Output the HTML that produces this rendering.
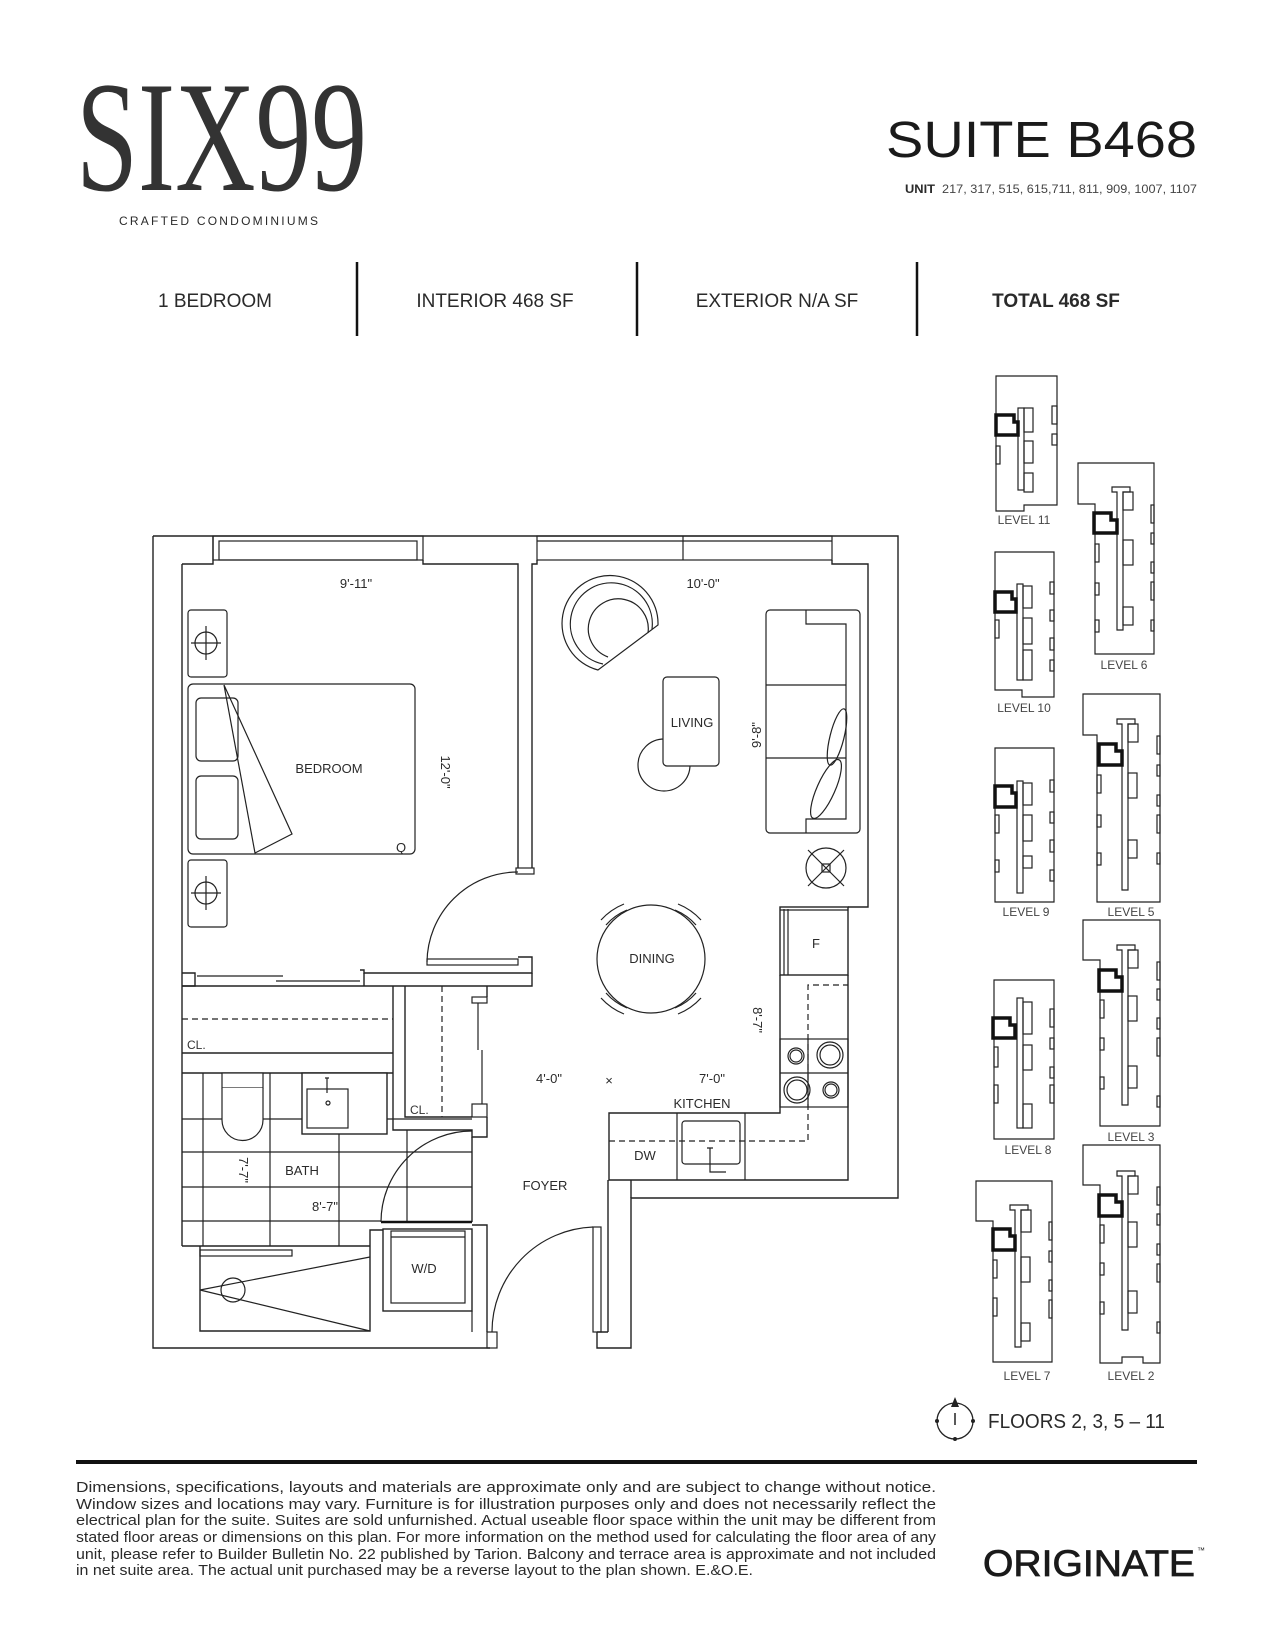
<!DOCTYPE html>
<html><head><meta charset="utf-8"><style>
html,body{margin:0;padding:0;background:#fff;}
svg{display:block;}
text{font-family:"Liberation Sans",sans-serif;fill:#2a2a2a;}
.p{fill:none;stroke:#222;stroke-width:1.4;}
.t{fill:none;stroke:#222;stroke-width:1.2;}
.h{fill:none;stroke:#111;stroke-width:3.5;}
.d{fill:none;stroke:#222;stroke-width:1.2;stroke-dasharray:6 4;}
.lbl{font-size:13px;text-anchor:middle;}
.lv{font-size:12px;text-anchor:middle;fill:#444;}
</style></head><body>
<svg width="1275" height="1650" viewBox="0 0 1275 1650" xmlns="http://www.w3.org/2000/svg">
<!-- Header -->
<text x="76" y="190" font-size="158" textLength="291" lengthAdjust="spacingAndGlyphs" style="font-family:'Liberation Serif',serif;fill:#333">SIX99</text>
<text x="119" y="225" font-size="12" textLength="199" lengthAdjust="spacing">CRAFTED CONDOMINIUMS</text>
<text x="886" y="157" font-size="51" textLength="311" lengthAdjust="spacingAndGlyphs" style="fill:#1a1a1a">SUITE B468</text>
<text x="905" y="193" font-size="12" font-weight="bold" textLength="30" lengthAdjust="spacingAndGlyphs">UNIT</text>
<text x="942" y="193" font-size="12" textLength="255" lengthAdjust="spacingAndGlyphs" style="fill:#444">217, 317, 515, 615,711, 811, 909, 1007, 1107</text>
<line x1="357" y1="262" x2="357" y2="336" stroke="#111" stroke-width="2.5"/>
<line x1="637" y1="262" x2="637" y2="336" stroke="#111" stroke-width="2.5"/>
<line x1="917" y1="262" x2="917" y2="336" stroke="#111" stroke-width="2.5"/>
<text x="215" y="307" font-size="19" text-anchor="middle">1 BEDROOM</text>
<text x="495" y="307" font-size="19" text-anchor="middle">INTERIOR 468 SF</text>
<text x="777" y="307" font-size="19" text-anchor="middle">EXTERIOR N/A SF</text>
<text x="1056" y="307" font-size="19" font-weight="bold" text-anchor="middle">TOTAL 468 SF</text>

<!-- Floor plan -->
<g>
<path class="p" d="M153,536 L898,536 L898,1198 L631,1198 L631,1348 L602,1348"/>
<path class="p" d="M153,536 L153,1348 L490,1348"/>
<path class="p" d="M182,564 L213,564 L213,536"/>
<rect class="t" x="213" y="536" width="210" height="24"/>
<rect class="t" x="219" y="541" width="198" height="19"/>
<path class="p" d="M423,560 L423,564 L518,564 L518,868"/>
<path class="p" d="M532,868 L532,564 L537,564 L537,560"/>
<rect class="t" x="516" y="868" width="18" height="6"/>
<rect class="t" x="537" y="536" width="295" height="24"/>
<line class="t" x1="537" y1="541" x2="832" y2="541"/>
<line class="t" x1="683" y1="536" x2="683" y2="560"/>
<path class="p" d="M832,560 L832,564 L868,564 L868,907 L848,907"/>
<rect class="p" x="780" y="907" width="68" height="68"/>
<line class="t" x1="784" y1="909" x2="784" y2="975"/><line class="t" x1="788" y1="909" x2="788" y2="975"/>
<line class="t" x1="780" y1="910" x2="848" y2="910"/>
<path class="p" d="M780,975 L780,1113 L609,1113 L609,1180 L848,1180 L848,975"/>
<rect class="t" x="780" y="1039" width="68" height="68"/>
<line class="t" x1="808" y1="1039" x2="808" y2="1107"/><line class="t" x1="780" y1="1073" x2="848" y2="1073"/>
<circle class="t" cx="796" cy="1056" r="8"/><circle class="t" cx="796" cy="1056" r="6"/>
<circle class="t" cx="830" cy="1055" r="13"/><circle class="t" cx="830" cy="1055" r="10"/>
<circle class="t" cx="797" cy="1090" r="13"/><circle class="t" cx="797" cy="1090" r="10"/>
<circle class="t" cx="831" cy="1090" r="8"/><circle class="t" cx="831" cy="1090" r="6"/>
<line class="t" x1="677" y1="1113" x2="677" y2="1180"/><line class="t" x1="745" y1="1113" x2="745" y2="1180"/>
<path class="d" d="M609,1141 L808,1141 L808,985 L848,985"/>
<rect class="t" x="682" y="1121" width="58" height="43" rx="3"/>
<path class="t" d="M710,1148 L710,1172 L726,1172 M707,1148 L713,1148"/>
<path class="p" d="M608,1180 L608,1332 M631,1198 L631,1180"/>
<rect class="t" x="593" y="1227" width="8" height="105"/>
<path class="t" d="M593,1227 A105,105 0 0 0 492,1332"/>
<path class="p" d="M597,1332 L608,1332 M597,1332 L597,1348 L602,1348"/>
<rect class="t" x="487" y="1332" width="10" height="16"/>
<rect class="t" x="188" y="610" width="39" height="67" rx="3"/>
<circle class="t" cx="206" cy="643" r="11"/><path class="t" d="M191,643 L221,643 M206,626 L206,660"/>
<rect class="t" x="188" y="860" width="39" height="67" rx="3"/>
<circle class="t" cx="206" cy="893" r="11"/><path class="t" d="M191,893 L221,893 M206,876 L206,910"/>
<rect class="t" x="188" y="684" width="227" height="170" rx="5"/>
<rect class="t" x="196" y="698" width="42" height="63" rx="5"/>
<rect class="t" x="196" y="776" width="42" height="63" rx="5"/>
<path class="t" d="M224,685 L292,834 L255,853 Z"/>
<rect class="t" x="427" y="959" width="91" height="6"/>
<path class="t" d="M427,962 A91,91 0 0 1 518,872"/>
<path class="p" d="M182,564 L182,1246"/>
<path class="p" d="M182,973 L195,973 L195,986 L182,986"/>
<line class="t" x1="197" y1="976" x2="283" y2="976"/><line class="t" x1="276" y1="981" x2="360" y2="981"/>
<path class="p" d="M360,970 L364,970 L364,973 L532,973 L532,957 L518,957"/>
<path class="p" d="M364,986 L364,973 M182,986 L532,986 L532,973"/>
<path class="p" d="M182,1053 L393,1053"/>
<line class="d" x1="182" y1="1019" x2="393" y2="1019"/>
<path class="p" d="M393,986 L393,1130 L472,1130 L472,1137 L487,1137 L487,1117 M405,986 L405,1117 L472,1117"/>
<line class="d" x1="442" y1="986" x2="442" y2="1117"/>
<rect class="t" x="472" y="997" width="15" height="6"/>
<rect class="t" x="472" y="1104" width="15" height="13"/>
<line class="t" x1="478" y1="1003" x2="478" y2="1050"/><line class="t" x1="482" y1="1050" x2="482" y2="1104"/>
<line class="p" x1="487" y1="986" x2="487" y2="997"/>
<path class="p" d="M182,1073 L393,1073"/>
<g class="t">
<line x1="182" y1="1119" x2="302" y2="1119"/><line x1="387" y1="1119" x2="472" y2="1119"/>
<line x1="182" y1="1152" x2="472" y2="1152"/><line x1="182" y1="1187" x2="472" y2="1187"/>
<line x1="182" y1="1221" x2="381" y2="1221"/>
<line x1="203" y1="1073" x2="203" y2="1246"/><line x1="270" y1="1073" x2="270" y2="1246"/>
<line x1="339" y1="1134" x2="339" y2="1246"/><line x1="407" y1="1130" x2="407" y2="1221"/>
</g>
<rect class="p" x="302" y="1073" width="85" height="61" style="fill:#fff"/>
<rect class="t" x="307" y="1089" width="41" height="39"/>
<path class="t" d="M327,1078 L327,1093 M325,1078 L329,1078"/><circle class="t" cx="328" cy="1103" r="2"/>
<rect class="t" x="222" y="1073" width="41" height="15" style="fill:#fff"/>
<path class="t" d="M222,1088 L222,1120 A20.5,20.5 0 0 0 263,1120 L263,1088" style="fill:#fff"/>
<line class="p" x1="472" y1="1137" x2="472" y2="1222"/>
<line x1="381" y1="1222" x2="472" y2="1222" stroke="#111" stroke-width="2.5"/>
<path class="t" d="M472,1131 A91,91 0 0 0 381,1222"/>
<path class="p" d="M182,1246 L370,1246 M200,1246 L200,1331 L370,1331 L370,1230 L383,1230"/>
<rect class="t" x="200" y="1250" width="92" height="6"/>
<path class="t" d="M200,1290 L370,1257 M200,1290 L370,1331"/>
<circle class="t" cx="233" cy="1290" r="12"/>
<rect class="p" x="383" y="1229" width="89" height="82"/>
<rect class="t" x="391" y="1231" width="74" height="72"/>
<line class="t" x1="391" y1="1237" x2="465" y2="1237"/>
<path class="p" d="M472,1225 L487,1225 L487,1332"/>
<line class="t" x1="472" y1="1311" x2="472" y2="1332"/>
<path class="t" d="M598,670 A48,48 0 1 1 658,625 Z"/>
<path class="t" d="M603,664 A41,41 0 1 1 652,629"/>
<path class="t" d="M608,657 A30,30 0 1 1 648,633"/>
<circle class="t" cx="664" cy="765" r="26"/>
<rect class="t" x="663" y="677" width="56" height="89" rx="4" style="fill:#fff"/>
<rect class="t" x="766" y="610" width="94" height="223" rx="4"/>
<path class="t" d="M806,610 L806,624 L846,624 L846,819 L806,819 L806,833"/>
<line class="t" x1="766" y1="685" x2="846" y2="685"/><line class="t" x1="766" y1="758" x2="846" y2="758"/>
<ellipse class="t" cx="837" cy="737" rx="7" ry="29" transform="rotate(14 837 737)"/>
<ellipse class="t" cx="826" cy="789" rx="9" ry="32" transform="rotate(24 826 789)"/>
<circle class="t" cx="826" cy="868" r="20"/>
<path class="t" d="M808,850 L844,886 M844,850 L808,886"/><rect class="t" x="822" y="864" width="8" height="8"/>
<circle class="t" cx="651" cy="959" r="54"/>
<g class="t">
<path d="M606,925 A56,56 0 0 1 627,910 M601,920 A63,63 0 0 1 624,904"/>
<path d="M696,925 A56,56 0 0 0 675,910 M701,920 A63,63 0 0 0 678,904"/>
<path d="M606,993 A56,56 0 0 0 627,1008 M601,998 A63,63 0 0 0 624,1014"/>
<path d="M696,993 A56,56 0 0 1 675,1008 M701,998 A63,63 0 0 1 678,1014"/>
</g>
</g>
<text class="lbl" x="356" y="588" font-size="12">9'-11"</text>
<text class="lbl" x="329" y="773">BEDROOM</text>
<text class="lbl" transform="translate(441,772) rotate(90)" font-size="12">12'-0"</text>
<text class="lbl" x="401" y="852" font-size="11">Q</text>
<text class="lbl" x="703" y="588" font-size="12">10'-0"</text>
<text class="lbl" x="692" y="727">LIVING</text>
<text class="lbl" transform="translate(761,735) rotate(-90)" font-size="12">9'-8"</text>
<text class="lbl" x="816" y="948">F</text>
<text class="lbl" x="652" y="963">DINING</text>
<text class="lbl" transform="translate(753,1020) rotate(90)" font-size="12">8'-7"</text>
<text class="lbl" x="549" y="1083" font-size="12">4'-0"</text>
<text class="lbl" x="609" y="1085" font-size="14">×</text>
<text class="lbl" x="712" y="1083" font-size="12">7'-0"</text>
<text class="lbl" x="702" y="1108">KITCHEN</text>
<text class="lbl" x="645" y="1160">DW</text>
<text class="lbl" x="545" y="1190">FOYER</text>
<text x="187" y="1049" font-size="12" style="fill:#333">CL.</text>
<text x="410" y="1114" font-size="12" style="fill:#333">CL.</text>
<text class="lbl" x="302" y="1175">BATH</text>
<text class="lbl" transform="translate(239,1170) rotate(90)" font-size="12">7'-7"</text>
<text class="lbl" x="325" y="1211" font-size="12">8'-7"</text>
<text class="lbl" x="424" y="1273">W/D</text>

<g class="t">
<path d="M996,376 L1057,376 L1057,505 L1024,505 L1024,511 L996,511 Z"/>
<rect x="1018" y="408" width="6" height="82"/><rect x="1024" y="408" width="9" height="24"/><rect x="1024" y="441" width="9" height="22"/><rect x="1024" y="473" width="9" height="19"/>
<rect x="1052" y="406" width="5" height="18"/><rect x="1052" y="434" width="5" height="11"/><rect x="996" y="446" width="4" height="18"/>
<path d="M995,552 L1054,552 L1054,697 L1022,697 L1022,690 L995,690 Z"/>
<rect x="1017" y="584" width="6" height="96"/><rect x="1023" y="586" width="9" height="22"/><rect x="1023" y="618" width="9" height="26"/><rect x="1023" y="650" width="9" height="30"/>
<rect x="1050" y="582" width="4" height="12"/><rect x="1050" y="610" width="4" height="11"/><rect x="1050" y="638" width="4" height="12"/><rect x="1050" y="660" width="4" height="11"/><rect x="995" y="620" width="4" height="18"/>
<path d="M995,748 L1054,748 L1054,902 L995,902 Z"/>
<rect x="1017" y="781" width="6" height="112"/><rect x="1023" y="783" width="9" height="22"/><rect x="1023" y="815" width="9" height="26"/><rect x="1023" y="856" width="9" height="12"/>
<rect x="1050" y="780" width="4" height="12"/><rect x="1050" y="812" width="4" height="11"/><rect x="1050" y="840" width="4" height="12"/><rect x="1050" y="870" width="4" height="11"/><rect x="995" y="815" width="4" height="18"/><rect x="995" y="860" width="4" height="12"/>
<path d="M994,980 L1054,980 L1054,1139 L994,1139 Z"/>
<rect x="1017" y="998" width="6" height="130"/><rect x="1023" y="1002" width="9" height="32"/><rect x="1023" y="1045" width="9" height="25"/><rect x="1023" y="1104" width="9" height="24"/>
<rect x="1050" y="1009" width="4" height="18"/><rect x="1050" y="1038" width="4" height="11"/><rect x="1050" y="1067" width="4" height="11"/><rect x="1050" y="1085" width="4" height="18"/><rect x="994" y="1047" width="4" height="20"/><rect x="994" y="1085" width="4" height="18"/>
</g>
<g class="t">
<path d="M1078,463 L1154,463 L1154,654 L1095,654 L1095,504 L1078,504 Z"/>
<path d="M1112,487 L1130,487 L1130,492 L1123,492 L1123,630 L1117,630 L1117,492 L1112,492 Z"/>
<rect x="1123" y="492" width="10" height="18"/><rect x="1123" y="540" width="10" height="25"/><rect x="1123" y="607" width="10" height="18"/>
<rect x="1151" y="505" width="3" height="18"/><rect x="1151" y="533" width="3" height="11"/><rect x="1151" y="562" width="3" height="11"/><rect x="1151" y="582" width="3" height="18"/><rect x="1151" y="620" width="3" height="11"/><rect x="1095" y="544" width="4" height="18"/><rect x="1095" y="583" width="4" height="12"/><rect x="1095" y="620" width="4" height="12"/>
<path d="M1083,694 L1160,694 L1160,902 L1097,902 L1097,735 L1083,735 Z"/>
<path d="M1117,719 L1135,719 L1135,724 L1128,724 L1128,890 L1122,890 L1122,724 L1117,724 Z"/>
<rect x="1128" y="724" width="10" height="18"/><rect x="1128" y="773" width="9" height="25"/><rect x="1128" y="840" width="9" height="18"/>
<rect x="1157" y="736" width="3" height="18"/><rect x="1157" y="765" width="3" height="11"/><rect x="1157" y="795" width="3" height="11"/><rect x="1157" y="815" width="3" height="18"/><rect x="1157" y="853" width="3" height="11"/><rect x="1097" y="775" width="4" height="18"/><rect x="1097" y="815" width="4" height="12"/><rect x="1097" y="853" width="4" height="12"/>
<path d="M1083,920 L1160,920 L1160,1126 L1100,1126 L1100,960 L1083,960 Z"/>
<path d="M1117,945 L1135,945 L1135,950 L1128,950 L1128,1105 L1122,1105 L1122,950 L1117,950 Z"/>
<rect x="1128" y="950" width="10" height="18"/><rect x="1128" y="996" width="9" height="25"/><rect x="1128" y="1066" width="9" height="22"/>
<rect x="1157" y="962" width="3" height="18"/><rect x="1157" y="989" width="3" height="11"/><rect x="1157" y="1018" width="3" height="11"/><rect x="1157" y="1038" width="3" height="18"/><rect x="1157" y="1096" width="3" height="11"/><rect x="1100" y="1000" width="4" height="18"/><rect x="1100" y="1038" width="4" height="12"/><rect x="1100" y="1077" width="4" height="12"/>
<path d="M1083,1145 L1160,1145 L1160,1363 L1143,1363 L1143,1357 L1122,1357 L1122,1363 L1100,1363 L1100,1185 L1083,1185 Z"/>
<path d="M1117,1171 L1135,1171 L1135,1176 L1128,1176 L1128,1330 L1122,1330 L1122,1176 L1117,1176 Z"/>
<rect x="1128" y="1176" width="10" height="18"/><rect x="1128" y="1222" width="9" height="25"/><rect x="1128" y="1291" width="9" height="22"/>
<rect x="1157" y="1187" width="3" height="18"/><rect x="1157" y="1214" width="3" height="11"/><rect x="1157" y="1244" width="3" height="11"/><rect x="1157" y="1264" width="3" height="18"/><rect x="1157" y="1322" width="3" height="11"/><rect x="1100" y="1225" width="4" height="18"/><rect x="1100" y="1263" width="4" height="12"/><rect x="1100" y="1302" width="4" height="12"/>
<path d="M976,1181 L1052,1181 L1052,1362 L993,1362 L993,1221 L976,1221 Z"/>
<path d="M1010,1205 L1028,1205 L1028,1210 L1021,1210 L1021,1347 L1015,1347 L1015,1210 L1010,1210 Z"/>
<rect x="1021" y="1210" width="10" height="22"/><rect x="1021" y="1257" width="9" height="25"/><rect x="1021" y="1323" width="9" height="18"/>
<rect x="1049" y="1222" width="3" height="18"/><rect x="1049" y="1251" width="3" height="11"/><rect x="1049" y="1280" width="3" height="11"/><rect x="1049" y="1300" width="3" height="18"/><rect x="993" y="1260" width="4" height="18"/><rect x="993" y="1298" width="4" height="18"/>
</g>
<g class="h">
<path d="M996,415 L1014,415 L1014,422 L1018,422 L1018,435 L996,435 Z"/>
<path d="M995,592 L1012,592 L1012,599 L1016,599 L1016,612 L995,612 Z"/>
<path d="M995,786 L1012,786 L1012,793 L1016,793 L1016,807 L995,807 Z"/>
<path d="M993,1018 L1010,1018 L1010,1025 L1015,1025 L1015,1038 L993,1038 Z"/>
<path d="M1094,513 L1111,513 L1111,520 L1117,520 L1117,533 L1094,533 Z"/>
<path d="M1099,744 L1116,744 L1116,751 L1122,751 L1122,765 L1099,765 Z"/>
<path d="M1099,970 L1116,970 L1116,977 L1122,977 L1122,991 L1099,991 Z"/>
<path d="M1099,1195 L1116,1195 L1116,1202 L1122,1202 L1122,1216 L1099,1216 Z"/>
<path d="M993,1229 L1010,1229 L1010,1236 L1015,1236 L1015,1250 L993,1250 Z"/>
</g>
<text class="lv" x="1024" y="524">LEVEL 11</text>
<text class="lv" x="1124" y="669">LEVEL 6</text>
<text class="lv" x="1024" y="712">LEVEL 10</text>
<text class="lv" x="1026" y="916">LEVEL 9</text>
<text class="lv" x="1131" y="916">LEVEL 5</text>
<text class="lv" x="1131" y="1141">LEVEL 3</text>
<text class="lv" x="1028" y="1154">LEVEL 8</text>
<text class="lv" x="1027" y="1380">LEVEL 7</text>
<text class="lv" x="1131" y="1380">LEVEL 2</text>

<circle cx="955" cy="1421" r="18" fill="none" stroke="#222" stroke-width="1.3"/>
<path d="M955,1397 L951,1407 L959,1407 Z" fill="#222"/>
<line x1="955" y1="1413" x2="955" y2="1425" stroke="#222" stroke-width="1.5"/>
<circle cx="937" cy="1421" r="2" fill="#222"/><circle cx="973" cy="1421" r="2" fill="#222"/><circle cx="955" cy="1439" r="2" fill="#222"/>
<text x="988" y="1428" font-size="20" textLength="177" lengthAdjust="spacingAndGlyphs">FLOORS 2, 3, 5 – 11</text>

<rect x="76" y="1460" width="1121" height="4" fill="#111"/>
<g font-size="15" style="fill:#333">
<text x="76" y="1492" textLength="860" lengthAdjust="spacingAndGlyphs">Dimensions, specifications, layouts and materials are approximate only and are subject to change without notice.</text>
<text x="76" y="1509" textLength="860" lengthAdjust="spacingAndGlyphs">Window sizes and locations may vary. Furniture is for illustration purposes only and does not necessarily reflect the</text>
<text x="76" y="1525" textLength="860" lengthAdjust="spacingAndGlyphs">electrical plan for the suite. Suites are sold unfurnished. Actual useable floor space within the unit may be different from</text>
<text x="76" y="1542" textLength="860" lengthAdjust="spacingAndGlyphs">stated floor areas or dimensions on this plan. For more information on the method used for calculating the floor area of any</text>
<text x="76" y="1559" textLength="860" lengthAdjust="spacingAndGlyphs">unit, please refer to Builder Bulletin No. 22 published by Tarion. Balcony and terrace area is approximate and not included</text>
<text x="76" y="1575" textLength="677" lengthAdjust="spacingAndGlyphs">in net suite area. The actual unit purchased may be a reverse layout to the plan shown. E.&amp;O.E.</text>
</g>
<text x="983" y="1576" font-size="37" textLength="212" lengthAdjust="spacingAndGlyphs" style="fill:#1a1a1a;stroke:#1a1a1a;stroke-width:0.8">ORIGINATE</text>
<text x="1197" y="1553" font-size="8" style="fill:#1a1a1a">™</text>
</svg>
</body></html>
